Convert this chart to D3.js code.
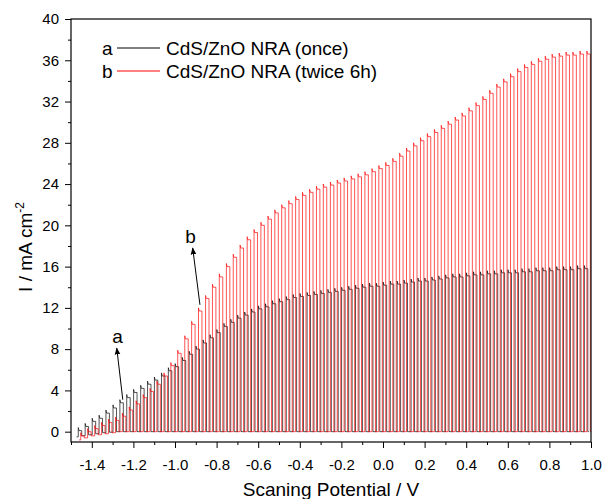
<!DOCTYPE html>
<html>
<head>
<meta charset="utf-8">
<script src="https://cdn.jsdelivr.net/npm/d3@7"></script>
<style>
  html, body { margin: 0; padding: 0; background: #fff; }
  svg { display: block; }
  text { font-family: "Liberation Sans", Arial, sans-serif; fill: #000; }
</style>
</head>
<body>
<svg id="chart" width="603" height="499"></svg>
<script>
// ---------------- DATA ----------------
// light-on potentials (V) of each chopped pulse
const potentialA = [-1.465,-1.432,-1.398,-1.365,-1.332,-1.298,-1.265,-1.232,-1.199,-1.165,-1.132,-1.099,-1.065,-1.032,-0.999,-0.965,-0.932,-0.899,-0.865,-0.832,-0.799,-0.765,-0.732,-0.699,-0.665,-0.632,-0.599,-0.565,-0.532,-0.499,-0.465,-0.432,-0.399,-0.365,-0.332,-0.299,-0.265,-0.232,-0.199,-0.165,-0.132,-0.099,-0.065,-0.032,0.001,0.035,0.068,0.101,0.135,0.168,0.201,0.235,0.268,0.301,0.335,0.368,0.401,0.435,0.468,0.501,0.535,0.568,0.601,0.635,0.668,0.701,0.735,0.768,0.801,0.835,0.868,0.901,0.935,0.968];
const potentialB = [-1.453,-1.420,-1.386,-1.353,-1.320,-1.286,-1.253,-1.220,-1.187,-1.153,-1.120,-1.087,-1.053,-1.020,-0.987,-0.953,-0.920,-0.887,-0.853,-0.820,-0.787,-0.753,-0.720,-0.687,-0.653,-0.620,-0.587,-0.553,-0.520,-0.487,-0.453,-0.420,-0.387,-0.353,-0.320,-0.287,-0.253,-0.220,-0.187,-0.153,-0.120,-0.087,-0.053,-0.020,0.013,0.047,0.080,0.113,0.147,0.180,0.213,0.247,0.280,0.313,0.347,0.380,0.413,0.447,0.480,0.513,0.547,0.580,0.613,0.647,0.680,0.713,0.747,0.780,0.813,0.847,0.880,0.913,0.947,0.980];
// photocurrent under illumination (mA cm^-2) for each pulse
const lightA = [0.1,0.5,1.0,1.3,1.8,2.3,2.8,3.3,3.8,4.2,4.6,5.0,5.4,5.9,6.3,6.9,7.5,8.0,8.6,9.1,9.6,10.2,10.6,11.0,11.3,11.6,11.9,12.1,12.4,12.6,12.8,13.0,13.1,13.2,13.3,13.4,13.5,13.6,13.7,13.8,13.9,14.0,14.1,14.1,14.2,14.3,14.3,14.4,14.5,14.6,14.6,14.7,14.8,14.9,15.0,15.0,15.1,15.2,15.2,15.3,15.3,15.4,15.4,15.4,15.5,15.5,15.6,15.6,15.6,15.7,15.7,15.7,15.8,15.8];
const lightB = [-0.4,0.0,0.3,0.6,0.9,1.1,1.5,2.1,2.7,3.3,3.9,4.6,5.4,6.4,7.6,9.0,10.4,11.7,12.9,14.0,15.0,16.0,16.9,17.8,18.6,19.3,20.0,20.6,21.2,21.7,22.1,22.5,22.9,23.2,23.5,23.7,23.9,24.1,24.3,24.5,24.7,24.9,25.2,25.5,25.8,26.2,26.7,27.2,27.7,28.2,28.6,29.0,29.4,29.8,30.2,30.6,31.1,31.6,32.2,32.8,33.4,33.9,34.4,34.9,35.3,35.6,35.9,36.1,36.3,36.4,36.5,36.5,36.6,36.6];
// dark current of the first pulses (rest ~0)
const darkA = [-0.5,-0.4,-0.3,-0.2,-0.1,-0.05];
const darkB = [-0.8,-0.6,-0.4,-0.3,-0.2,-0.1];
const chopHalf = 0.0166;   // light-on duration in V
const spike = 0.3;         // transient overshoot at light-on

const seriesNames = ["CdS/ZnO NRA (once)", "CdS/ZnO NRA (twice 6h)"];
const seriesKeys = ["a", "b"];
const seriesColors = ["#000000", "#ff0000"];

const xTicks = [-1.4,-1.2,-1.0,-0.8,-0.6,-0.4,-0.2,0.0,0.2,0.4,0.6,0.8,1.0];
const xMinor = [-1.5,-1.3,-1.1,-0.9,-0.7,-0.5,-0.3,-0.1,0.1,0.3,0.5,0.7,0.9];
const yTicks = [0,4,8,12,16,20,24,28,32,36,40];
const yMinor = [2,6,10,14,18,22,26,30,34,38];

// annotation arrows: [label, textV, textI, tailV, tailI, tipV, tipI]
const annotations = [
  ["a", -1.276, 8.6, -1.251, 3.1, -1.28, 8.1],
  ["b", -0.925, 18.3, -0.880, 12.3, -0.915, 17.8]
];

// ---------------- CHART ----------------
const svg = d3.select("#chart");
const L = 71, R = 591, T = 19, B = 442;
const x = d3.scaleLinear().domain([-1.5, 1.0]).range([L, R]);
const y = d3.scaleLinear().domain([-1, 40]).range([B, T]);

function buildPath(pot, light, dark) {
  const pts = [];
  const dk = i => (dark[i] !== undefined ? dark[i] : 0);
  pts.push([pot[0] - chopHalf * 0.5, dk(0)]);
  for (let i = 0; i < pot.length; i++) {
    const on = pot[i], off = on + chopHalf;
    const d0 = dk(i), d1 = dk(i + 1);
    const next = i + 1 < pot.length ? pot[i + 1] : off + chopHalf * 0.3;
    pts.push([on, d0]);
    pts.push([on, light[i] + spike]);
    pts.push([on + chopHalf * 0.2, light[i]]);
    pts.push([off, light[i]]);
    pts.push([off, d1]);
    pts.push([next, d1]);
  }
  return pts;
}

const line = d3.line().x(d => x(d[0])).y(d => y(d[1]));
svg.append("clipPath").attr("id", "clip")
  .append("rect").attr("x", L).attr("y", T).attr("width", R - L).attr("height", B - T);

const plot = svg.append("g").attr("clip-path", "url(#clip)");
plot.append("path")
  .attr("d", line(buildPath(potentialA, lightA, darkA)))
  .attr("fill", "none").attr("stroke", seriesColors[0]).attr("stroke-width", 0.8)
  .attr("stroke-opacity", 0.85);
plot.append("path")
  .attr("d", line(buildPath(potentialB, lightB, darkB)))
  .attr("fill", "none").attr("stroke", seriesColors[1]).attr("stroke-width", 0.8)
  .attr("stroke-opacity", 0.85);

// axes
const fmt = d => d.toFixed(1);
const gx = svg.append("g").attr("transform", `translate(0,${B})`)
  .call(d3.axisBottom(x).tickValues(xTicks).tickFormat(fmt).tickSize(6).tickPadding(11));
const gxm = svg.append("g").attr("transform", `translate(0,${B})`)
  .call(d3.axisBottom(x).tickValues(xMinor).tickFormat("").tickSize(3));
const gy = svg.append("g").attr("transform", `translate(${L},0)`)
  .call(d3.axisLeft(y).tickValues(yTicks).tickFormat(d => String(d)).tickSize(6).tickPadding(6));
const gym = svg.append("g").attr("transform", `translate(${L},0)`)
  .call(d3.axisLeft(y).tickValues(yMinor).tickFormat("").tickSize(3));
[gx, gxm, gy, gym].forEach(g => {
  g.select(".domain").remove();
  g.selectAll("line").attr("stroke", "#000").attr("stroke-width", 1);
  g.selectAll("text").attr("font-size", 15).attr("font-family", '"Liberation Sans", Arial, sans-serif').attr("fill", "#000");
});

// frame
svg.append("rect").attr("x", L).attr("y", T).attr("width", R - L).attr("height", B - T)
  .attr("fill", "none").attr("stroke", "#000").attr("stroke-width", 1.2);

// axis titles
svg.append("text").attr("x", (L + R) / 2).attr("y", 496).attr("text-anchor", "middle")
  .attr("font-size", 19).text("Scaning Potential / V");
const yt = svg.append("text").attr("transform", `translate(32,247) rotate(-90)`)
  .attr("text-anchor", "middle").attr("font-size", 19);
yt.append("tspan").text("I / mA cm");
yt.append("tspan").attr("dy", -8).attr("font-size", 12).text("-2");

// legend
seriesNames.forEach((name, i) => {
  const cy = 48 + i * 23;
  svg.append("text").attr("x", 102).attr("y", cy + 7).attr("font-size", 19).text(seriesKeys[i]);
  svg.append("line").attr("x1", 117).attr("x2", 160).attr("y1", cy).attr("y2", cy)
    .attr("stroke", seriesColors[i]).attr("stroke-width", 1);
  svg.append("text").attr("x", 166).attr("y", cy + 7).attr("font-size", 19).text(name);
});

// annotations
svg.append("defs").append("marker").attr("id", "arr")
  .attr("viewBox", "0 0 10 10").attr("refX", 9).attr("refY", 5)
  .attr("markerWidth", 7).attr("markerHeight", 7).attr("orient", "auto")
  .append("path").attr("d", "M0,1 L10,5 L0,9 Z").attr("fill", "#000");
annotations.forEach(a => {
  svg.append("text").attr("x", x(a[1])).attr("y", y(a[2])).attr("text-anchor", "middle")
    .attr("font-size", 19).text(a[0]);
  svg.append("line").attr("x1", x(a[3])).attr("y1", y(a[4])).attr("x2", x(a[5])).attr("y2", y(a[6]))
    .attr("stroke", "#000").attr("stroke-width", 1).attr("marker-end", "url(#arr)");
});
</script>
</body>
</html>
